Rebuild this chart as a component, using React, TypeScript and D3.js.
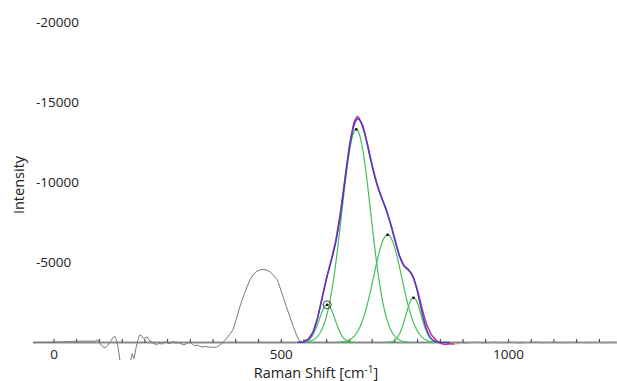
import React from 'react';
import * as d3 from 'd3';

const W = 617;
const H = 381;

// Axis ticks
const xTickLabels = [0, 500, 1000];
const yTickLabels = [-5000, -10000, -15000, -20000];

// Raw spectrum (gray) below the fitted region; null = gap in the trace
const rawShift = [
  -46, 0, 40, 50, 70, 90, 97, 101, 106, 112, 118, 124, 130, 134, 137, 141, 145,
  157, 169, 172, 176, 180, 186, 189, 193, 197, 201, 205, 209, 214, 220, 226, 232,
  238, 244, 250, 256, 262, 268, 274, 280, 286, 292, 298, 304, 310, 316, 322, 328,
  334, 340, 346, 352, 358, 364, 370, 376, 382, 388, 394, 401, 409, 417, 425, 431,
  438, 445, 452, 460, 467, 475, 483, 491, 497, 504, 511, 519, 527, 535, 541, 547,
];
const rawIntensity: (number | null)[] = [
  0, -20, -60, -80, -90, -80, -150, 40, 250, 330, 200, -50, -320, -380, -200, 300, 1100,
  null, 1100, 700, 1000, 400, -300, -480, -420, -250, -300, -350, -150, -60, 80, 120, 60,
  100, -40, 30, 70, -80, 40, 0, 90, 150, 60, -30, 90, 200, 160, 250, 290,
  240, 300, 270, 310, 280, 180, 40, -120, -330, -560, -810, -1450, -2240, -2900, -3490, -3900,
  -4230, -4420, -4520, -4570, -4520, -4420, -4200, -3920, -3450, -2860, -2250, -1620, -950, -370, -60, 0,
];

// Measured data in the fitted region (magenta)
const fitShift = [
  540, 550, 560, 570, 580, 590, 600, 610, 620, 630, 640, 650, 660, 667, 670, 680,
  690, 700, 710, 720, 730, 740, 750, 760, 770, 780, 790, 800, 810, 820, 830, 840,
  850, 860, 870, 880,
];
const fitIntensity = [
  -20, -60, -220, -660, -1550, -2800, -4050, -5150, -6350, -8050, -10200, -12300, -13750, -14100, -14050, -13500,
  -12350, -11050, -9950, -9100, -8350, -7450, -6400, -5400, -4800, -4550, -4100, -3250, -2100, -1100, -500, -150,
  50, 120, 80, 100,
];

// Gray trace continuing past the fit
const tailShift = [
  880, 895, 910, 925, 940, 955, 970, 985, 1000, 1015, 1030, 1045, 1060, 1075, 1090,
  1105, 1120, 1135, 1150, 1165, 1180, 1195, 1210, 1225, 1239,
];
const tailIntensity = [
  100, 60, 40, -30, 20, 50, -40, 30, -60, 20, 40, -30, -50, 30, -20,
  -60, 30, 20, -40, 10, 30, -20, 40, -30, 0,
];

// Fitted Gaussian components
const peakCenters = [601, 665, 734, 791];
const peakHeights = [-2350, -13300, -6720, -2790];
const peakWidths = [17.5, 32, 31, 17];

const x = d3.scaleLinear().domain([0, 1000]).range([54, 508.5]);
const y = d3.scaleLinear().domain([0, -20000]).range([342.5, 22]);

const gauss = (v: number, i: number) =>
  peakHeights[i] * Math.exp(-0.5 * Math.pow((v - peakCenters[i]) / peakWidths[i], 2));

export default function App() {
  const line = d3
    .line<[number, number | null]>()
    .defined((d) => d[1] !== null)
    .x((d) => x(d[0]))
    .y((d) => y(d[1] as number));

  const rawPts = rawShift.map((s, i) => [s, rawIntensity[i]] as [number, number | null]);
  const fitPts = fitShift.map((s, i) => [s, fitIntensity[i]] as [number, number | null]);
  const tailPts = tailShift.map((s, i) => [s, tailIntensity[i]] as [number, number | null]);

  const compPaths = peakCenters.map((c, i) => {
    const lo = c - 3.6 * peakWidths[i];
    const hi = c + 3.6 * peakWidths[i];
    const pts = d3.range(lo, hi + 0.5, 1).map((v) => [v, gauss(v, i)] as [number, number | null]);
    return line(pts) as string;
  });

  const sumPts = d3
    .range(535, 872, 1)
    .map((v) => [v, peakCenters.reduce((acc, _c, i) => acc + gauss(v, i), 0)] as [number, number | null]);

  const minorTicks = d3.range(0, 1250, 50);
  const font = "'Open Sans', 'Liberation Sans', sans-serif";

  return (
    <svg
      width={W}
      height={H}
      style={{ position: 'absolute', left: 0, top: 0, background: '#fff' }}
    >
      <rect x={0} y={0} width={W} height={H} fill="#fff" />
      {/* axis line */}
      <line x1={33} x2={W} y1={y(0)} y2={y(0)} stroke="#8a8a8a" strokeWidth={2} />
      {minorTicks.map((t) => (
        <line key={t} x1={x(t)} x2={x(t)} y1={y(0) - 3.5} y2={y(0)} stroke="#333" strokeWidth={1} />
      ))}
      {/* raw spectrum */}
      <path d={line(rawPts) as string} fill="none" stroke="#7a7a7a" strokeWidth={1} />
      <path d={line(tailPts) as string} fill="none" stroke="#a0a0a0" strokeWidth={1} strokeDasharray="6,3" />
      {/* components */}
      {compPaths.map((d, i) => (
        <path key={i} d={d} fill="none" stroke="#46be5a" strokeWidth={1.2} />
      ))}
      {/* measured + fit */}
      <path d={line(fitPts) as string} fill="none" stroke="#cc3399" strokeWidth={1.6} />
      <path d={line(sumPts) as string} fill="none" stroke="#4040c8" strokeWidth={1.4} />
      {/* markers */}
      {peakCenters.map((c, i) => (
        <g key={i}>
          {i === 0 && (
            <circle cx={x(c)} cy={y(peakHeights[i])} r={4} fill="none" stroke="#444" strokeWidth={1} />
          )}
          <rect x={x(c) - 1.2} y={y(peakHeights[i]) - 1.2} width={2.4} height={2.4} fill="#111" />
        </g>
      ))}
      {/* y tick labels */}
      {yTickLabels.map((t) => (
        <text key={t} x={36} y={y(t) + 5} fontFamily={font} fontSize={13.5} fill="#222">
          {t}
        </text>
      ))}
      {/* x tick labels */}
      {xTickLabels.map((t) => (
        <text key={t} x={x(t)} y={358.5} textAnchor="middle" fontFamily={font} fontSize={13.5} fill="#222">
          {t}
        </text>
      ))}
      {/* axis titles */}
      <text x={316} y={377.5} textAnchor="middle" fontFamily={font} fontSize={14.5} fill="#222">
        Raman Shift [cm
        <tspan dy={-5} fontSize={10}>-1</tspan>
        <tspan dy={5}>]</tspan>
      </text>
      <text
        transform={`translate(24, 185) rotate(-90)`}
        textAnchor="middle"
        fontFamily={font}
        fontSize={14.5}
        fill="#222"
      >
        Intensity
      </text>
    </svg>
  );
}
